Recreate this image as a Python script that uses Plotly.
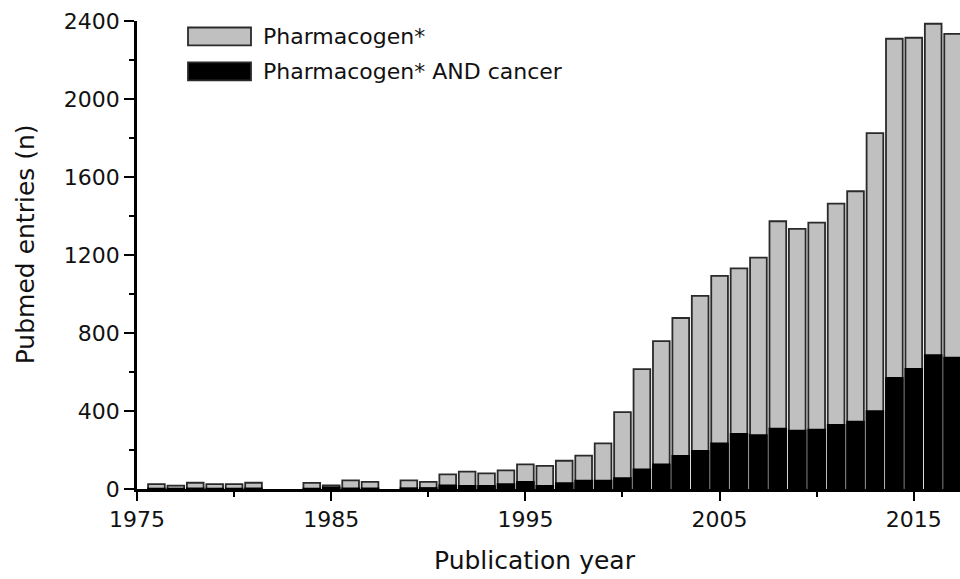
import plotly.graph_objects as go

years = [1976, 1977, 1978, 1979, 1980, 1981, 1984, 1985, 1986, 1987, 1989, 1990,
         1991, 1992, 1993, 1994, 1995, 1996, 1997, 1998, 1999, 2000, 2001, 2002,
         2003, 2004, 2005, 2006, 2007, 2008, 2009, 2010, 2011, 2012, 2013, 2014,
         2015, 2016, 2017]
pharmacogen = [25, 17, 32, 25, 25, 32, 31, 18, 44, 37, 44, 37,
               75, 89, 80, 96, 126, 119, 145, 171, 234, 394, 615, 758,
               877, 990, 1093, 1131, 1187, 1373, 1334, 1366, 1463, 1527, 1825, 2309,
               2314, 2386, 2334]
pharmacogen_cancer = [2, 2, 3, 2, 2, 3, 2, 8, 3, 3, 4, 5,
                      18, 16, 16, 25, 37, 16, 30, 43, 43, 56, 100, 126,
                      170, 195, 234, 283, 276, 309, 299, 304, 329, 345, 399, 570,
                      616, 686, 673]

series_names = ["Pharmacogen*", "Pharmacogen* AND cancer"]
series_colors = ["#c0c0c0", "#000000"]

FONT = "DejaVu Sans"

fig = go.Figure()
fig.add_trace(go.Bar(x=years, y=pharmacogen, name=series_names[0], width=0.86,
                     marker=dict(color=series_colors[0], line=dict(color="#2a2a2a", width=1.8)),
                     showlegend=False))
fig.add_trace(go.Bar(x=years, y=pharmacogen_cancer, name=series_names[1], width=0.86,
                     marker=dict(color=series_colors[1], line=dict(color="#000000", width=1.8)),
                     showlegend=False))

W, H = 960, 579
L, R, T, B = 137, 0, 20.5, 90
pw, ph = W - L - R, H - T - B

def px(x):
    return (x - L) / pw

def py(y):
    return (H - B - y) / ph

shapes = []
annotations = []
# custom legend
for i, (name, col) in enumerate(zip(series_names, series_colors)):
    y0, y1 = 27 + i * 35, 45 + i * 35
    shapes.append(dict(type="rect", xref="paper", yref="paper",
                       x0=px(188), x1=px(251), y0=py(y1), y1=py(y0),
                       fillcolor=col, line=dict(color="#2a2a2a", width=1.8)))
    annotations.append(dict(xref="paper", yref="paper", x=px(261), y=py((y0 + y1) / 2),
                            text=name, showarrow=False, xanchor="left", yanchor="middle",
                            font=dict(family=FONT, size=22, color="#111")))

annotations.append(dict(xref="paper", yref="paper", x=px(535), y=py(561),
                        text="Publication year", showarrow=False,
                        xanchor="center", yanchor="middle",
                        font=dict(family=FONT, size=25, color="#111")))
annotations.append(dict(xref="paper", yref="paper", x=px(25), y=py(244),
                        text="Pubmed entries (n)", showarrow=False, textangle=-90,
                        xanchor="center", yanchor="middle",
                        font=dict(family=FONT, size=25, color="#111")))

fig.update_layout(
    width=W, height=H,
    margin=dict(l=L, r=R, t=T, b=B, pad=0),
    barmode="overlay",
    plot_bgcolor="white", paper_bgcolor="white",
    font=dict(family=FONT, size=22, color="#111"),
    shapes=shapes, annotations=annotations,
)
fig.update_xaxes(range=[1975, 2017.38], tickmode="linear", tick0=1975, dtick=10,
                 ticks="outside", ticklen=9, tickwidth=2, tickcolor="black",
                 minor=dict(tickmode="linear", tick0=1975, dtick=5, ticks="outside",
                            ticklen=5, tickwidth=2, tickcolor="black"),
                 showline=True, linecolor="black", linewidth=2.5,
                 showgrid=False, zeroline=False,
                 tickfont=dict(family=FONT, size=22, color="#111"))
fig.update_yaxes(range=[0, 2400], tickmode="linear", tick0=0, dtick=400,
                 ticks="outside", ticklen=10, tickwidth=2, tickcolor="black",
                 minor=dict(tickmode="linear", tick0=0, dtick=200, ticks="outside",
                            ticklen=5, tickwidth=2, tickcolor="black"),
                 showline=True, linecolor="black", linewidth=2.5,
                 showgrid=False, zeroline=False,
                 tickfont=dict(family=FONT, size=22, color="#111"))

fig.write_html("out.html", config={"displayModeBar": False},
               post_script="document.body.style.margin='0';document.body.style.overflow='hidden';")
